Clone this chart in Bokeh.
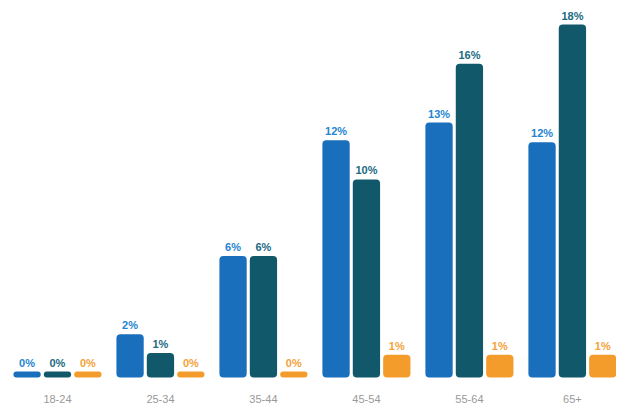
from bokeh.plotting import figure
from bokeh.models import ColumnDataSource, FixedTicker, Range1d
from bokeh.core.properties import value
from bokeh.embed import file_html
from bokeh.resources import INLINE

categories = ["18-24", "25-34", "35-44", "45-54", "55-64", "65+"]
series_a = [0.3, 2.2, 6.2, 12.1, 13.0, 12.0]
series_b = [0.3, 1.25, 6.2, 10.1, 16.0, 18.0]
series_c = [0.3, 0.3, 0.3, 1.15, 1.15, 1.15]
labels_a = ["0%", "2%", "6%", "12%", "13%", "12%"]
labels_b = ["0%", "1%", "6%", "10%", "16%", "18%"]
labels_c = ["0%", "0%", "0%", "1%", "1%", "1%"]

bar_colors = ["#1a6fbd", "#11586a", "#f39c2c"]
label_colors = ["#2385d0", "#1a6a82", "#f4a23a"]
offsets = [-0.295, 0.0, 0.295]
bar_w = 0.265

p = figure(width=616, height=405, output_backend="svg", toolbar_location=None,
           x_range=Range1d(-0.553, 5.428), y_range=Range1d(-0.26, 19.23),
           min_border_left=0, min_border_right=0, min_border_top=0, min_border_bottom=0)
p.outline_line_color = None
p.xgrid.visible = False
p.ygrid.visible = False
p.yaxis.visible = False
p.background_fill_color = "white"
p.border_fill_color = "white"

xs = list(range(len(categories)))
for vals, labs, bc, lc, off in zip([series_a, series_b, series_c],
                                   [labels_a, labels_b, labels_c],
                                   bar_colors, label_colors, offsets):
    src = ColumnDataSource(dict(x=[x + off for x in xs], top=vals, lab=labs))
    p.vbar(x="x", top="top", bottom=0, width=bar_w, source=src,
           fill_color=bc, line_color=None, border_radius=4)
    p.text(x="x", y="top", text="lab", source=src, text_align="center",
           text_baseline="bottom", y_offset=-3, text_color=lc,
           text_font=value("Liberation Sans"), text_font_style="bold",
           text_font_size="11px")

ax = p.xaxis[0]
ax.ticker = FixedTicker(ticks=xs)
ax.major_label_overrides = {i: c for i, c in enumerate(categories)}
ax.axis_line_color = None
ax.major_tick_line_color = None
ax.minor_tick_line_color = None
ax.major_label_standoff = 6
ax.major_label_text_color = "#999999"
ax.major_label_text_font = "Liberation Sans"
ax.major_label_text_font_size = "11px"

open("out.html", "w").write(file_html(p, INLINE))
